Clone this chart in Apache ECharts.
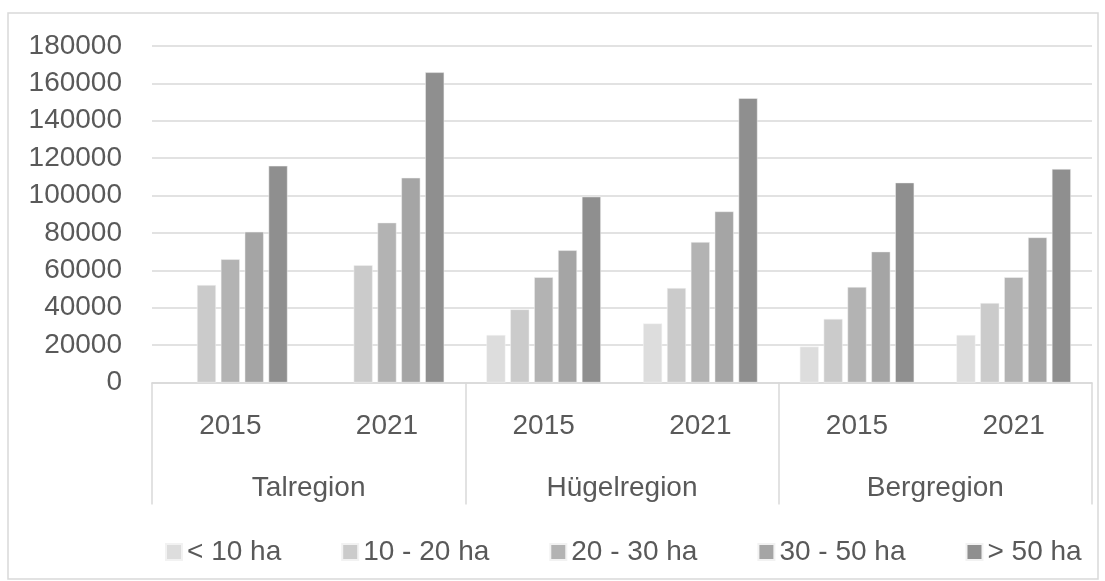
<!DOCTYPE html>
<html>
<head>
<meta charset="utf-8">
<script src="https://cdn.jsdelivr.net/npm/echarts@6/dist/echarts.min.js"></script>
<style>
html,body{margin:0;padding:0;background:#fff;}
#c{width:1105px;height:581px;}
</style>
</head>
<body>
<div id="c"></div>
<script>
const years = ['2015', '2021', '2015', '2021', '2015', '2021'];
const regions = ['Talregion', 'Hügelregion', 'Bergregion'];
const seriesNames = ['< 10 ha', '10 - 20 ha', '20 - 30 ha', '30 - 50 ha', '> 50 ha'];
const lt10 = [null, null, 25400, 31600, 19200, 25400];
const s10to20 = [52100, 62700, 39100, 50500, 34000, 42500];
const s20to30 = [65900, 85500, 56300, 75100, 51100, 56300];
const s30to50 = [80600, 109500, 70700, 91500, 70000, 77600];
const gt50 = [115900, 165900, 99400, 152100, 106900, 114200];
const yTicks = [0, 20000, 40000, 60000, 80000, 100000, 120000, 140000, 160000, 180000];

const colors = ['#dddddd', '#cbcbcb', '#b3b3b3', '#a5a5a5', '#8f8f8f'];
const allData = [lt10, s10to20, s20to30, s30to50, gt50];
const FONT = 'Liberation Sans';
const TXT = '#595959';

const chart = echarts.init(document.getElementById('c'));
chart.setOption({
  animation: false,
  textStyle: { fontFamily: FONT },
  graphic: [{
    type: 'rect',
    shape: { x: 8, y: 13, width: 1090, height: 566 },
    style: { fill: 'none', stroke: '#d9d9d9', lineWidth: 1.5 },
    silent: true
  }],
  grid: { left: 152, right: 13, top: 46, bottom: 198.5 },
  legend: {
    top: 533,
    left: 160,
    icon: 'rect',
    itemWidth: 16,
    itemHeight: 16,
    itemGap: 60,
    textStyle: { fontFamily: FONT, fontSize: 28, color: TXT },
    data: seriesNames
  },
  xAxis: [{
    type: 'category',
    data: years,
    axisLine: { lineStyle: { color: '#d9d9d9', width: 1.5 } },
    axisTick: { show: false },
    axisLabel: { fontFamily: FONT, fontSize: 28, color: TXT, margin: 30 }
  }, {
    type: 'category',
    data: regions,
    position: 'bottom',
    axisLine: { show: false },
    axisTick: { show: true, length: 122, lineStyle: { color: '#d9d9d9', width: 1.5 } },
    axisLabel: { fontFamily: FONT, fontSize: 28, color: TXT, margin: 92 },
    splitLine: { show: false }
  }],
  yAxis: {
    type: 'value',
    min: yTicks[0],
    max: yTicks[yTicks.length - 1],
    interval: yTicks[1] - yTicks[0],
    axisLine: { show: false },
    axisTick: { show: false },
    axisLabel: { fontFamily: FONT, fontSize: 28, color: TXT, margin: 30, formatter: v => String(v) },
    splitLine: { lineStyle: { color: '#d9d9d9', width: 1.5 } }
  },
  series: seriesNames.map((n, i) => ({
    name: n,
    type: 'bar',
    xAxisIndex: 0,
    data: allData[i],
    barCategoryGap: '27%',
    barGap: '26%',
    itemStyle: { color: colors[i], borderColor: '#f2f2f2', borderWidth: 0.5 }
  }))
});
</script>
</body>
</html>
